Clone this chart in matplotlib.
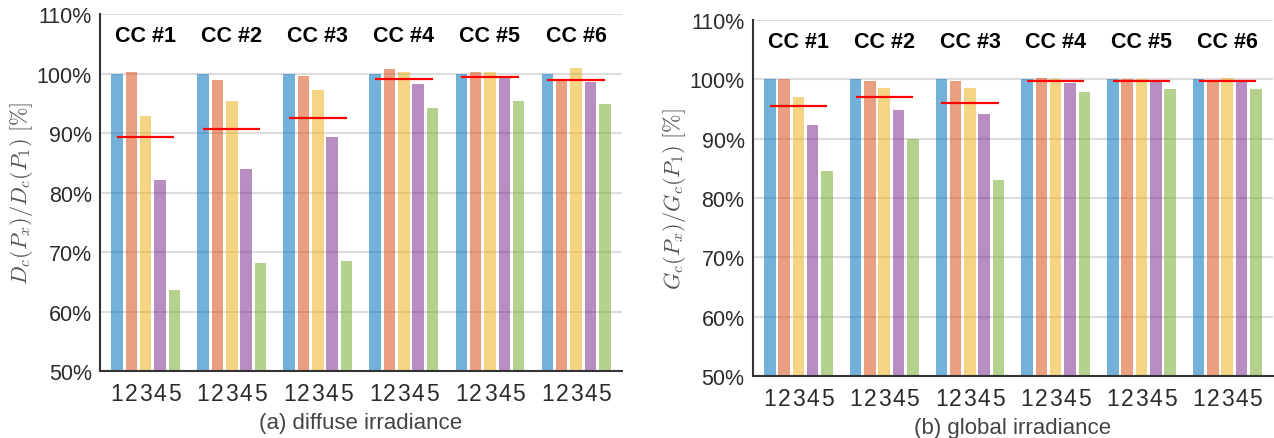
import numpy as np
import matplotlib
matplotlib.use("Agg")
import matplotlib.pyplot as plt

plt.rcParams['font.family'] = ['Liberation Sans', 'DejaVu Sans']
plt.rcParams['mathtext.fontset'] = 'cm'

groups = ['CC #1', 'CC #2', 'CC #3', 'CC #4', 'CC #5', 'CC #6']
positions = ['1', '2', '3', '4', '5']

# (a) diffuse irradiance, one list per position P1..P5 (values in %)
diffuse_p1 = [100.0, 100.0, 100.0, 100.0, 100.0, 100.0]
diffuse_p2 = [100.2, 98.9, 99.6, 100.7, 100.3, 98.8]
diffuse_p3 = [92.9, 95.4, 97.2, 100.3, 100.2, 101.0]
diffuse_p4 = [82.1, 84.0, 89.3, 98.3, 99.3, 98.5]
diffuse_p5 = [63.6, 68.2, 68.5, 94.2, 95.4, 94.9]
diffuse_ref = [89.3, 90.6, 92.6, 99.1, 99.4, 98.9]

# (b) global irradiance
global_p1 = [100.0, 100.0, 100.0, 100.0, 100.0, 100.0]
global_p2 = [100.1, 99.7, 99.7, 100.3, 100.1, 99.8]
global_p3 = [97.0, 98.5, 98.5, 100.1, 100.1, 100.3]
global_p4 = [92.3, 94.9, 94.2, 99.4, 99.9, 99.8]
global_p5 = [84.5, 89.9, 83.0, 97.9, 98.3, 98.4]
global_ref = [95.5, 97.0, 96.0, 99.7, 99.8, 99.7]

colors = ['#0072BD', '#D95319', '#EDB120', '#7E2F8E', '#77AC30']
step = 1 / 6
bar_w = 0.134


def draw_panel(ax, series, ref, ylabel, xlabel):
    g = np.arange(len(groups))
    for i, vals in enumerate(series):
        ax.bar(g + i * step, vals, width=bar_w, color=colors[i], alpha=0.55,
               linewidth=0, zorder=2)
    ax.hlines(ref, g, g + 4 * step, colors='#FF0000', linewidth=1.6, zorder=3)
    for k, name in enumerate(groups):
        ax.text(k + 2 * step, 106.4, name, ha='center', va='center',
                fontsize=15.5, fontweight='bold', color='black')

    ticks = np.concatenate([k + np.arange(5) * step for k in g])
    ax.set_xticks(ticks)
    ax.set_xticklabels(positions * len(groups))
    ax.set_xlim(-0.197, 5 + 4 * step + 0.197)
    ax.set_ylim(50, 110)
    ax.set_yticks(np.arange(50, 111, 10))
    ax.set_yticklabels([f'{v}%' for v in range(50, 111, 10)])
    ax.tick_params(length=0, labelcolor='#2b2b2b')
    ax.tick_params(axis='y', labelsize=15.5, pad=6)
    ax.tick_params(axis='x', labelsize=16.5, pad=8)
    ax.grid(axis='y', color='#dddddd', linewidth=1.5, zorder=0)
    ax.set_axisbelow(True)
    for s in ['top', 'right']:
        ax.spines[s].set_visible(False)
    for s in ['left', 'bottom']:
        ax.spines[s].set_color('#333333')
        ax.spines[s].set_linewidth(1.5)
    ax.set_ylabel(ylabel, fontsize=16, color='#555555', labelpad=1)
    ax.set_xlabel(xlabel, fontsize=16, color='#444444', labelpad=5)


fig = plt.figure(figsize=(12.74, 4.39), dpi=100)
ax1 = fig.add_axes([0.0785, 0.1526, 0.4095, 0.8132])
ax2 = fig.add_axes([0.591, 0.1412, 0.408, 0.8108])

draw_panel(ax1, [diffuse_p1, diffuse_p2, diffuse_p3, diffuse_p4, diffuse_p5],
           diffuse_ref, r'$D_c(P_x)/D_c(P_1)\ [\%]$', '(a) diffuse irradiance')
draw_panel(ax2, [global_p1, global_p2, global_p3, global_p4, global_p5],
           global_ref, r'$G_c(P_x)/G_c(P_1)\ [\%]$', '(b) global irradiance')

fig.savefig('out.png', dpi=100)
